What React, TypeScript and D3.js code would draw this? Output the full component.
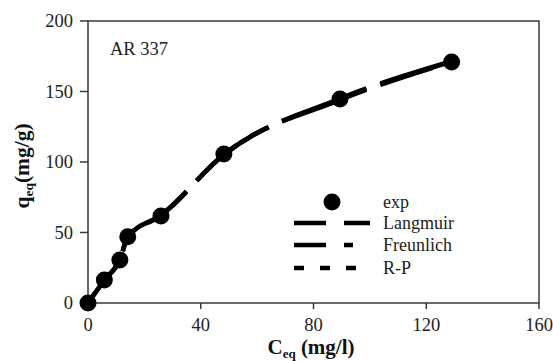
import React from "react";
import * as d3 from "d3";

const cEq = [0, 5.8, 11.3, 14.1, 25.9, 48.2, 89.4, 129];
const qExp = [0, 16.3, 30.5, 47, 61.7, 105.7, 144.7, 171];
const qLangmuir = [0, 16, 31, 46.5, 62.5, 105, 145, 171.5];
const qFreundlich = [0, 16.5, 30.5, 47, 62, 105.5, 144, 171];
const qRP = [0, 16.3, 30.8, 46.8, 62, 105.3, 144.5, 171.2];
const xTicks = [0, 40, 80, 120, 160];
const yTicks = [0, 50, 100, 150, 200];
const legendNames = ["exp", "Langmuir", "Freunlich", "R-P"];
const panelLabel = "AR 337";

const W = 553;
const H = 361;

export default function App() {
  const x = d3.scaleLinear().domain([0, 160]).range([88, 539]);
  const y = d3.scaleLinear().domain([0, 200]).range([303, 21]);
  const line = (vals: number[]) =>
    d3
      .line<number>()
      .x((_, i) => x(cEq[i]))
      .y((d) => y(d))
      .curve(d3.curveMonotoneX)(vals) || "";

  const axisColor = "#3a3a3a";
  const fits = [
    { vals: qLangmuir, dash: "90,15", off: 42 },
    { vals: qFreundlich, dash: "55,15,20,15", off: 42 },
    { vals: qRP, dash: "25,15,50,15", off: 42 },
  ];
  const legendDash = ["32,18,26", "32,18,9", "10,16,10,16,10"];
  const legendLen = [76, 59, 62];
  const lx = 294;
  const rowY = [202, 223, 245, 268];

  return (
    <svg width={W} height={H} style={{ position: "absolute", left: 0, top: 0 }}>
      <style>{`.sf { font-family: "Liberation Serif", "Times New Roman", Times, serif; }`}</style>
      <rect x={0} y={0} width={W} height={H} fill="#fff" />
      <rect
        x={x(0)}
        y={y(200)}
        width={x(160) - x(0)}
        height={y(0) - y(200)}
        fill="none"
        stroke={axisColor}
        strokeWidth={1.5}
      />
      {yTicks.map((t) => (
        <g key={"y" + t}>
          <line x1={x(0) - 8} x2={x(0)} y1={y(t)} y2={y(t)} stroke={axisColor} strokeWidth={1.5} />
          <text className="sf" x={73} y={y(t) + 6} textAnchor="end" fontSize={18.5} fill="#222">
            {String(t)}
          </text>
        </g>
      ))}
      {xTicks.map((t) => (
        <g key={"x" + t}>
          <line x1={x(t)} x2={x(t)} y1={y(0)} y2={y(0) + 6} stroke={axisColor} strokeWidth={1.5} />
          <text className="sf" x={x(t)} y={331} textAnchor="middle" fontSize={18.5} fill="#222">
            {String(t)}
          </text>
        </g>
      ))}
      <text className="sf" x={311} y={354} textAnchor="middle" fontSize={21} fontWeight="bold" fill="#111">
        C<tspan fontSize={13} dy={4}>eq</tspan>
        <tspan dy={-4}> (mg/l)</tspan>
      </text>
      <text
        className="sf"
        transform={`translate(29,166) rotate(-90)`}
        textAnchor="middle"
        fontSize={21.5}
        fontWeight="bold"
        fill="#111"
      >
        q<tspan fontSize={13.5} dy={4}>eq</tspan>
        <tspan dy={-4}>(mg/g)</tspan>
      </text>
      <text className="sf" x={110} y={55} fontSize={18.5} fill="#222">
        {panelLabel}
      </text>
      {fits.map((f, i) => (
        <path
          key={"f" + i}
          d={line(f.vals)}
          fill="none"
          stroke="#000"
          strokeWidth={4.5}
          strokeDasharray={f.dash}
          strokeDashoffset={f.off}
        />
      ))}
      {qExp.map((q, i) => (
        <circle key={"p" + i} cx={x(cEq[i])} cy={y(q)} r={8.5} fill="#000" />
      ))}
      <circle cx={332} cy={rowY[0]} r={8.5} fill="#000" />
      {[1, 2, 3].map((k) => (
        <line
          key={"l" + k}
          x1={lx}
          x2={lx + legendLen[k - 1]}
          y1={rowY[k]}
          y2={rowY[k]}
          stroke="#000"
          strokeWidth={4.5}
          strokeDasharray={legendDash[k - 1]}
        />
      ))}
      {legendNames.map((n, k) => (
        <text className="sf" key={"t" + n} x={383} y={rowY[k] + 6} fontSize={18} fill="#222">
          {n}
        </text>
      ))}
    </svg>
  );
}
